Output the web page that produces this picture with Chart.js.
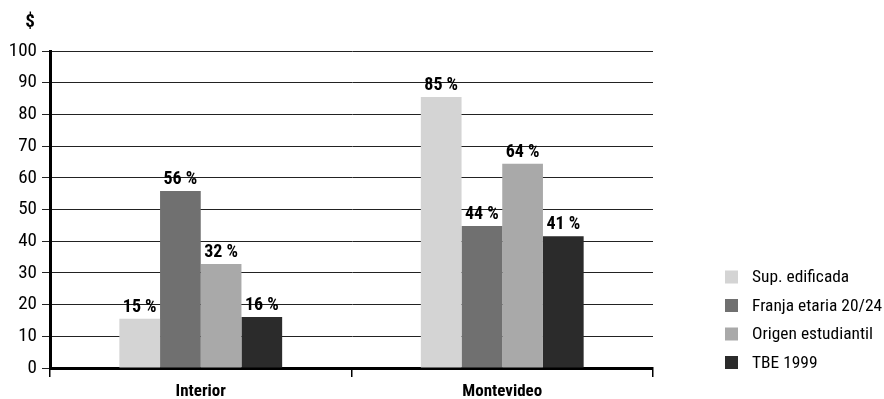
<!DOCTYPE html>
<html>
<head>
<meta charset="utf-8">
<script src="https://cdn.jsdelivr.net/npm/chart.js@4/dist/chart.umd.min.js"></script>
<style>
html,body{margin:0;padding:0;background:#fff;}
#wrap{width:884px;height:399px;position:relative;}
</style>
</head>
<body>
<div id="wrap"><canvas id="c"></canvas></div>
<script>
const categories = ["Interior", "Montevideo"];
const seriesNames = ["Sup. edificada", "Franja etaria 20/24", "Origen estudiantil", "TBE 1999"];
const supEdificada = [15.5, 85.5];
const franjaEtaria = [55.8, 44.8];
const origenEstudiantil = [32.8, 64.4];
const tbe1999 = [16.1, 41.6];
const supLabels = ["15 %", "85 %"];
const franjaLabels = ["56 %", "44 %"];
const origenLabels = ["32 %", "64 %"];
const tbeLabels = ["16 %", "41 %"];
const yTicks = [0, 10, 20, 30, 40, 50, 60, 70, 80, 90, 100];
const colors = ["#d4d4d4", "#707070", "#a9a9a9", "#2b2b2b"];

const FONT = "'Roboto Condensed', 'DejaVu Sans Condensed', sans-serif";
const allValues = [supEdificada, franjaEtaria, origenEstudiantil, tbe1999];
const allLabels = [supLabels, franjaLabels, origenLabels, tbeLabels];

const overlay = {
  id: 'overlay',
  afterDatasetsDraw(chart) {
    const ctx = chart.ctx;
    ctx.save();
    // value labels
    ctx.fillStyle = '#000';
    ctx.font = "bold 18px " + FONT;
    ctx.textAlign = 'center';
    ctx.textBaseline = 'alphabetic';
    chart.data.datasets.forEach((ds, di) => {
      const meta = chart.getDatasetMeta(di);
      meta.data.forEach((bar, i) => {
        ctx.fillText(allLabels[di][i], bar.x, bar.y - 7);
      });
    });
    // "$" unit label
    ctx.font = "bold 19px " + FONT;
    ctx.textAlign = 'center';
    ctx.textBaseline = 'middle';
    ctx.fillText('$', 30, 22);
    // legend
    ctx.font = "17.4px " + FONT;
    ctx.textAlign = 'left';
    const rows = [277, 305.5, 334, 362.5];
    chart.data.datasets.forEach((ds, di) => {
      ctx.fillStyle = ds.backgroundColor;
      ctx.fillRect(725, rows[di] - 6.5, 13, 13);
      ctx.fillStyle = '#000';
      ctx.fillText(ds.label, 752, rows[di] + 1);
    });
    ctx.restore();
  }
};

new Chart(document.getElementById('c'), {
  type: 'bar',
  data: {
    labels: categories,
    datasets: seriesNames.map((n, i) => ({
      label: n,
      data: allValues[i],
      backgroundColor: colors[i],
      borderWidth: 0,
      categoryPercentage: 0.54,
      barPercentage: 1.0
    }))
  },
  options: {
    responsive: true,
    maintainAspectRatio: false,
    animation: false,
    layout: { padding: { top: 51, right: 231, bottom: 0, left: 0 } },
    plugins: { legend: { display: false }, tooltip: { enabled: false } },
    scales: {
      x: {
        afterFit(scale) { scale.height = 31; },
        border: { display: true, color: '#000', width: 3 },
        grid: { offset: true, drawOnChartArea: false, drawTicks: true, tickLength: 9, color: '#000', lineWidth: 1.5 },
        ticks: { color: '#000', font: { family: FONT, size: 17, weight: 'bold' }, padding: 5 }
      },
      y: {
        min: 0, max: 100,
        afterFit(scale) { scale.width = 50; },
        afterBuildTicks(scale) { scale.ticks = yTicks.map(v => ({ value: v })); },
        border: { display: true, color: '#000', width: 3 },
        grid: { color: '#222', lineWidth: 1, tickLength: 8, drawTicks: true },
        ticks: { color: '#000', font: { family: FONT, size: 19 }, padding: 5 }
      }
    }
  },
  plugins: [overlay]
});
</script>
</body>
</html>
